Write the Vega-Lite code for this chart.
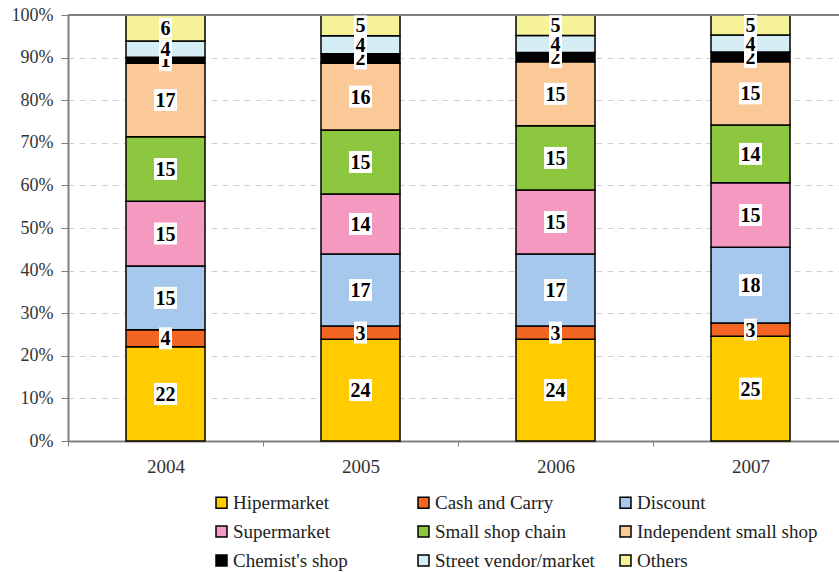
{
  "$schema": "https://vega.github.io/schema/vega-lite/v6.json",
  "width": 771,
  "height": 426,
  "autosize": {"type": "none"},
  "padding": {"left": 68, "top": 15, "right": 0, "bottom": 131},
  "background": "white",
  "config": {
    "view": {"stroke": null},
    "font": "Liberation Serif, DejaVu Serif, serif"
  },
  "data": {
    "values": [
      {"year": "2004", "channel": "Hipermarket", "order": 1, "value": 22.1},
      {"year": "2004", "channel": "Cash and Carry", "order": 2, "value": 4.0},
      {"year": "2004", "channel": "Discount", "order": 3, "value": 15.0},
      {"year": "2004", "channel": "Supermarket", "order": 4, "value": 15.2},
      {"year": "2004", "channel": "Small shop chain", "order": 5, "value": 15.1},
      {"year": "2004", "channel": "Independent small shop", "order": 6, "value": 17.3},
      {"year": "2004", "channel": "Chemist's shop", "order": 7, "value": 1.4},
      {"year": "2004", "channel": "Street vendor/market", "order": 8, "value": 3.8},
      {"year": "2004", "channel": "Others", "order": 9, "value": 6.1},
      {"year": "2005", "channel": "Hipermarket", "order": 1, "value": 23.9},
      {"year": "2005", "channel": "Cash and Carry", "order": 2, "value": 3.1},
      {"year": "2005", "channel": "Discount", "order": 3, "value": 16.9},
      {"year": "2005", "channel": "Supermarket", "order": 4, "value": 14.1},
      {"year": "2005", "channel": "Small shop chain", "order": 5, "value": 15.0},
      {"year": "2005", "channel": "Independent small shop", "order": 6, "value": 15.7},
      {"year": "2005", "channel": "Chemist's shop", "order": 7, "value": 2.2},
      {"year": "2005", "channel": "Street vendor/market", "order": 8, "value": 4.2},
      {"year": "2005", "channel": "Others", "order": 9, "value": 4.9},
      {"year": "2006", "channel": "Hipermarket", "order": 1, "value": 23.9},
      {"year": "2006", "channel": "Cash and Carry", "order": 2, "value": 3.1},
      {"year": "2006", "channel": "Discount", "order": 3, "value": 16.9},
      {"year": "2006", "channel": "Supermarket", "order": 4, "value": 15.0},
      {"year": "2006", "channel": "Small shop chain", "order": 5, "value": 15.1},
      {"year": "2006", "channel": "Independent small shop", "order": 6, "value": 15.0},
      {"year": "2006", "channel": "Chemist's shop", "order": 7, "value": 2.2},
      {"year": "2006", "channel": "Street vendor/market", "order": 8, "value": 4.0},
      {"year": "2006", "channel": "Others", "order": 9, "value": 4.8},
      {"year": "2007", "channel": "Hipermarket", "order": 1, "value": 24.6},
      {"year": "2007", "channel": "Cash and Carry", "order": 2, "value": 3.1},
      {"year": "2007", "channel": "Discount", "order": 3, "value": 17.8},
      {"year": "2007", "channel": "Supermarket", "order": 4, "value": 15.1},
      {"year": "2007", "channel": "Small shop chain", "order": 5, "value": 13.6},
      {"year": "2007", "channel": "Independent small shop", "order": 6, "value": 14.8},
      {"year": "2007", "channel": "Chemist's shop", "order": 7, "value": 2.3},
      {"year": "2007", "channel": "Street vendor/market", "order": 8, "value": 4.0},
      {"year": "2007", "channel": "Others", "order": 9, "value": 4.7}
    ]
  },
  "transform": [
    {"stack": "value", "groupby": ["year"], "sort": [{"field": "order", "order": "ascending"}], "offset": "normalize", "as": ["y0", "y1"]},
    {"calculate": "(datum.y0 + datum.y1) / 2", "as": "ymid"}
  ],
  "encoding": {
    "x": {
      "field": "year",
      "type": "ordinal",
      "scale": {"range": [0, 780], "paddingInner": 0, "paddingOuter": 0},
      "axis": {
        "title": null,
        "labelAngle": 0,
        "tickBand": "extent",
        "grid": false,
        "domainColor": "#808080",
        "domainWidth": 2,
        "tickColor": "#808080",
        "tickSize": 5,
        "labelFont": "Liberation Serif, DejaVu Serif, serif",
        "labelFontSize": 19,
        "labelColor": "#333333",
        "labelPadding": 11
      }
    }
  },
  "layer": [
    {
      "mark": {"type": "bar", "size": 79, "stroke": "black", "strokeWidth": 1.5},
      "encoding": {
        "y": {
          "field": "y0",
          "type": "quantitative",
          "scale": {"domain": [0, 1], "nice": false},
          "axis": {
            "title": null,
            "format": ".0%",
            "values": [0, 0.1, 0.2, 0.3, 0.4, 0.5, 0.6, 0.7, 0.8, 0.9, 1],
            "grid": true,
            "gridColor": "#d0d0d0",
            "gridDash": [6, 5],
            "gridWidth": 1,
            "domainColor": "#808080",
            "domainWidth": 2,
            "tickColor": "#808080",
            "tickSize": 7,
            "labelFont": "Liberation Serif, DejaVu Serif, serif",
            "labelFontSize": 18,
            "labelColor": "#333333",
            "labelPadding": 8
          }
        },
        "y2": {"field": "y1"},
        "color": {
          "field": "channel",
          "type": "nominal",
          "scale": {
            "domain": ["Hipermarket", "Cash and Carry", "Discount", "Supermarket", "Small shop chain", "Independent small shop", "Chemist's shop", "Street vendor/market", "Others"],
            "range": ["#FFCC00", "#F26522", "#A6C8EC", "#F49AC1", "#8DC63F", "#FBC897", "#000000", "#D5EDF5", "#F6F297"]
          },
          "legend": {
            "title": null,
            "orient": "none",
            "legendX": 144,
            "legendY": 478,
            "direction": "horizontal",
            "columns": 3,
            "gridAlign": "all",
            "columnPadding": -6,
            "rowPadding": 9,
            "padding": 0,
            "symbolType": "square",
            "symbolSize": 121,
            "symbolStrokeColor": "black",
            "symbolStrokeWidth": 1.5,
            "symbolOpacity": 1,
            "labelFont": "Liberation Serif, DejaVu Serif, serif",
            "labelFontSize": 19,
            "labelColor": "#222222",
            "labelOffset": 2,
            "labelLimit": 0
          }
        },
        "order": {"field": "order", "type": "quantitative"}
      }
    },
    {
      "mark": {"type": "rule", "color": "#808080", "strokeWidth": 2},
      "encoding": {"y": {"datum": 1, "type": "quantitative"}, "x": {"value": 0}, "x2": {"value": 771}}
    },
    {
      "transform": [{"filter": "datum.order <= 7"}],
      "layer": [
        {
          "mark": {"type": "tick", "color": "white", "opacity": 1, "thickness": 22},
          "encoding": {
            "y": {"field": "ymid", "type": "quantitative"},
            "size": {"condition": {"test": "round(datum.value) >= 10", "value": 23}, "value": 13}
          }
        },
        {
          "mark": {"type": "text", "font": "Liberation Serif, DejaVu Serif, serif", "fontWeight": "bold", "fontSize": 20, "color": "black", "baseline": "middle", "dy": 1},
          "encoding": {
            "y": {"field": "ymid", "type": "quantitative"},
            "text": {"field": "value", "type": "quantitative", "format": ".0f"}
          }
        }
      ]
    },
    {
      "transform": [{"filter": "datum.order >= 8"}],
      "layer": [
        {
          "mark": {"type": "tick", "color": "white", "opacity": 1, "thickness": 20},
          "encoding": {
            "y": {"field": "ymid", "type": "quantitative"},
            "size": {"value": 13}
          }
        },
        {
          "mark": {"type": "text", "font": "Liberation Serif, DejaVu Serif, serif", "fontWeight": "bold", "fontSize": 20, "color": "black", "baseline": "middle", "dy": 1},
          "encoding": {
            "y": {"field": "ymid", "type": "quantitative"},
            "text": {"field": "value", "type": "quantitative", "format": ".0f"}
          }
        }
      ]
    }
  ]
}
